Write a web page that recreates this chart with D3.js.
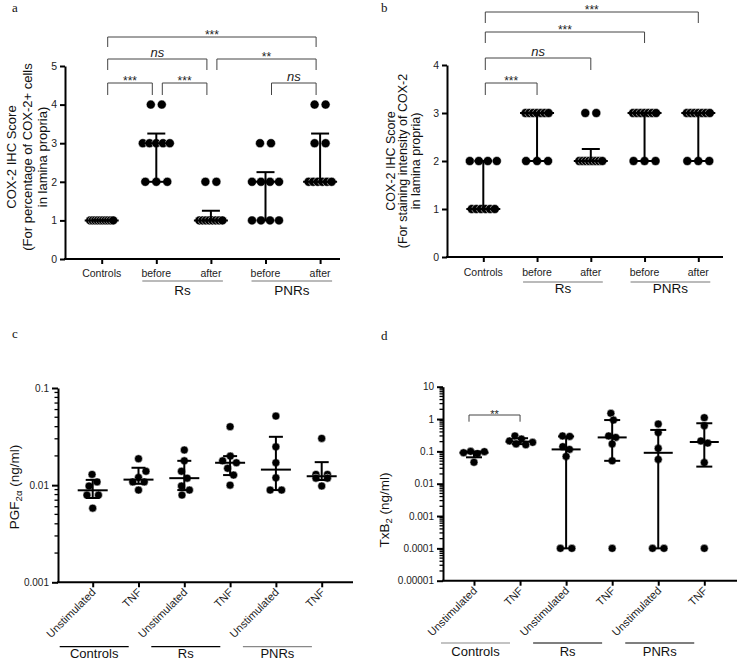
<!DOCTYPE html>
<html><head><meta charset="utf-8">
<script src="https://cdn.jsdelivr.net/npm/d3@7"></script>
<style>body{margin:0;background:#fff}svg{display:block;font-family:"Liberation Sans",Arial,sans-serif}</style>
</head><body><script>
// ---------------- DATA ----------------
const abCategories = ["Controls", "before", "after", "before", "after"];
const abGroupLabels = ["Rs", "PNRs"];
const abGroupSpans = [[1, 2], [3, 4]];

// panel a: COX-2 score (percentage of COX-2+ cells)
const aControls  = [1, 1, 1, 1, 1, 1, 1, 1, 1, 1];
const aRsBefore  = [4, 4, 3, 3, 3, 3, 3, 2, 2, 2];
const aRsAfter   = [2, 2, 1, 1, 1, 1, 1, 1, 1, 1];
const aPnrBefore = [3, 3, 2, 2, 2, 2, 1, 1, 1, 1];
const aPnrAfter  = [4, 4, 3, 3, 2, 2, 2, 2, 2, 2];
const aYTicks = [0, 1, 2, 3, 4, 5];
const aYTickLabels = ["0", "1", "2", "3", "4", "5"];
const aBrackets = [[0, 4, "***"], [0, 2, "ns"], [2, 4, "**"], [0, 1, "***"], [1, 2, "***"], [3, 4, "ns"]];
const aBracketLevel = [0, 1, 1, 2, 2, 2];
const aYLabel = ["COX-2 IHC Score", "(For percentage of COX-2+ cells", "in lamina propria)"];

// panel b: COX-2 score (staining intensity)
const bControls  = [2, 2, 2, 2, 1, 1, 1, 1, 1, 1];
const bRsBefore  = [3, 3, 3, 3, 3, 3, 3, 2, 2, 2];
const bRsAfter   = [3, 3, 2, 2, 2, 2, 2, 2, 2, 2];
const bPnrBefore = [3, 3, 3, 3, 3, 3, 3, 2, 2, 2];
const bPnrAfter  = [3, 3, 3, 3, 3, 3, 3, 2, 2, 2];
const bYTicks = [0, 1, 2, 3, 4];
const bYTickLabels = ["0", "1", "2", "3", "4"];
const bBrackets = [[0, 4, "***"], [0, 3, "***"], [0, 2, "ns"], [0, 1, "***"]];
const bBracketLevel = [0, 1, 2, 3];
const bYLabel = ["COX-2 IHC Score", "(For staining intensity of COX-2", "in lamina propria)"];

const cdCategories = ["Unstimulated", "TNF", "Unstimulated", "TNF", "Unstimulated", "TNF"];
const cdGroupLabels = ["Controls", "Rs", "PNRs"];
const cdGroupSpans = [[0, 1], [2, 3], [4, 5]];

// panel c: PGF2α (ng/ml)
const cCtrlUnstim = [0.0129, 0.0108, 0.0098, 0.0079, 0.0079, 0.0058];
const cCtrlTnf    = [0.0187, 0.0139, 0.0120, 0.0108, 0.0108, 0.0089];
const cRsUnstim   = [0.0230, 0.0178, 0.0139, 0.0118, 0.0098, 0.0089, 0.0079];
const cRsTnf      = [0.0400, 0.0199, 0.0178, 0.0170, 0.0149, 0.0127, 0.0100];
const cPnrUnstim  = [0.0514, 0.0248, 0.0170, 0.0119, 0.0089, 0.0089];
const cPnrTnf     = [0.0303, 0.0129, 0.0129, 0.0118, 0.0118, 0.0098];
const cYTicks = [0.001, 0.01, 0.1];
const cYTickLabels = ["0.001", "0.01", "0.1"];

// panel d: TxB2 (ng/ml)
const dCtrlUnstim = [0.100, 0.098, 0.091, 0.085, 0.046];
const dCtrlTnf    = [0.30, 0.24, 0.21, 0.19, 0.17, 0.16];
const dRsUnstim   = [0.30, 0.29, 0.14, 0.115, 0.07, 0.0001, 0.0001];
const dRsTnf      = [1.5, 0.93, 0.30, 0.27, 0.17, 0.051, 0.0001];
const dPnrUnstim  = [0.70, 0.38, 0.124, 0.0565, 0.0001, 0.0001];
const dPnrTnf     = [1.1, 0.62, 0.21, 0.18, 0.045, 0.0001];
const dYTicks = [0.00001, 0.0001, 0.001, 0.01, 0.1, 1, 10];
const dYTickLabels = ["0.00001", "0.0001", "0.001", "0.01", "0.1", "1", "10"];
const dBrackets = [[0, 1, "**"]];
const dBracketLevel = [0];

// ---------------- HELPERS ----------------
const svg = d3.select("body").append("svg").attr("width", 740).attr("height", 661);

function pct(sorted, p) {
  const n = sorted.length, h = (n + 1) * p;
  if (h <= 1) return sorted[0];
  if (h >= n) return sorted[n - 1];
  const l = Math.floor(h);
  return sorted[l - 1] + (h - l) * (sorted[l] - sorted[l - 1]);
}
function layoutTies(vals, sp, spanSmall, spanBig) {
  const dx = new Array(vals.length).fill(0);
  const groups = d3.group(vals.map((v, i) => [v, i]), d => d[0]);
  for (const [, arr] of groups) {
    const n = arr.length;
    const s = n > 1 ? Math.min(sp, (n <= 5 ? spanSmall : spanBig) / (n - 1)) : 0;
    arr.forEach((d, k) => { dx[d[1]] = (k - (n - 1) / 2) * s; });
  }
  return dx;
}
function layoutPoints(vals, y, o) {
  const tieDx = layoutTies(vals, o.tieSp, 27, 23);
  const counts = d3.rollup(vals, v => v.length, d => d);
  const nodes = vals.map((v, i) => {
    const tie = counts.get(v) > 1;
    return { x: tie ? tieDx[i] : (i % 2 ? 1 : -1) * (0.2 + i * 0.15), y: y(v), fy: y(v), fx: tie ? tieDx[i] : null };
  });
  if (nodes.some(n => n.fx == null) && o.collide) {
    const sim = d3.forceSimulation(nodes)
      .force("x", d3.forceX(0).strength(0.06))
      .force("col", d3.forceCollide(o.collide).iterations(3)).stop();
    for (let k = 0; k < 400; k++) sim.tick();
  }
  return nodes.map(n => n.x);
}

function drawPanel(o) {
  const g = svg.append("g");
  const n = o.cats.length;
  const x = d3.scaleLinear().domain([0, n - 1]).range([o.x0, o.x1]);
  const y = (o.log ? d3.scaleLog() : d3.scaleLinear()).domain(o.yDomain).range([o.yBottom, o.yTop]);

  // y axis
  const ya = g.append("g").attr("transform", `translate(${o.axisX},0)`)
    .call(d3.axisLeft(y).tickValues(o.yTicks).tickFormat((d, i) => o.yTickLabels[i])
      .tickSize(o.log ? 6 : 5).tickSizeOuter(0).tickPadding(3));
  ya.select(".domain").attr("stroke", "#000").attr("stroke-width", 2);
  ya.selectAll(".tick line").attr("stroke", "#000").attr("stroke-width", 2);
  ya.selectAll(".tick text").attr("font-size", o.tickFont).attr("fill", "#222")
    .attr("font-family", '"Liberation Sans",Arial,sans-serif');
  if (o.log) {
    const minors = [];
    for (let k = 0; k < o.yTicks.length - 1; k++)
      for (let m = 2; m <= 9; m++) minors.push(o.yTicks[k] * m);
    g.append("g").selectAll("line").data(minors).join("line")
      .attr("x1", o.axisX - 3.5).attr("x2", o.axisX)
      .attr("y1", d => y(d)).attr("y2", d => y(d))
      .attr("stroke", "#000").attr("stroke-width", 1.3);
  }
  // x axis
  g.append("line").attr("x1", o.axisX - 1).attr("x2", o.xEnd)
    .attr("y1", o.yBottom).attr("y2", o.yBottom).attr("stroke", "#000").attr("stroke-width", 2);
  const xa = g.append("g").attr("transform", `translate(0,${o.yBottom})`)
    .call(d3.axisBottom(x).tickValues(d3.range(n)).tickSize(5).tickFormat(""));
  xa.select(".domain").remove();
  xa.selectAll(".tick line").attr("stroke", "#000").attr("stroke-width", 2);

  // category labels
  if (o.rotate) {
    g.append("g").selectAll("text").data(o.cats).join("text")
      .attr("transform", (d, i) => `translate(${x(i) + 1},${o.yBottom + 8}) rotate(-45)`)
      .attr("text-anchor", "end").attr("dy", "0.35em")
      .attr("font-size", 11).attr("fill", "#222").text(d => d);
  } else {
    g.append("g").selectAll("text").data(o.cats).join("text")
      .attr("x", (d, i) => x(i)).attr("y", o.catLabelY).attr("dy", "0.35em")
      .attr("text-anchor", "middle").attr("font-size", 10.5).attr("fill", "#222").text(d => d);
  }
  // group underlines + labels
  o.groupSpans.forEach((s, k) => {
    const xa0 = o.rotate ? x(s[0]) - 33 : x(s[0]) - 14;
    const xa1 = o.rotate ? x(s[0]) + 36 : x(s[1]) + 12;
    g.append("line").attr("x1", xa0).attr("x2", xa1).attr("y1", o.underY).attr("y2", o.underY)
      .attr("stroke", o.underColors[k]).attr("stroke-width", 1.2);
    g.append("text").attr("x", (xa0 + xa1) / 2).attr("y", o.groupLabelY).attr("dy", "0.35em")
      .attr("text-anchor", "middle").attr("font-size", o.groupFont).attr("fill", "#111")
      .text(o.groupLabels[k]);
  });

  // data columns
  o.series.forEach((vals, i) => {
    const dx = layoutPoints(vals, y, o);
    const cg = g.append("g");
    cg.selectAll("circle").data(vals).join("circle")
      .attr("cx", (d, k) => x(i) + dx[k]).attr("cy", d => y(d)).attr("r", o.r)
      .attr("fill", "#000").attr("stroke", "#fff").attr("stroke-width", 0.5);
    const s = vals.slice().sort((a, b) => a - b);
    const q1 = pct(s, 0.25), med = pct(s, 0.5), q3 = pct(s, 0.75);
    const lines = [
      [x(i), y(q1), x(i), y(q3)],
      [x(i) - o.capHW, y(q1), x(i) + o.capHW, y(q1)],
      [x(i) - o.capHW, y(q3), x(i) + o.capHW, y(q3)],
      [x(i) - o.medHW, y(med), x(i) + o.medHW, y(med)]
    ];
    cg.selectAll("line").data(lines).join("line")
      .attr("x1", d => d[0]).attr("y1", d => d[1]).attr("x2", d => d[2]).attr("y2", d => d[3])
      .attr("stroke", "#000").attr("stroke-width", 2);
  });

  // significance brackets
  (o.brackets || []).forEach((b, k) => {
    const L = o.bracketLevels[k];
    const top = o.bracketTops[L], bot = o.bracketBots[L];
    const x1 = x(b[0]) + o.legOffL, x2 = x(b[1]) + o.legOffR;
    g.append("path").attr("d", `M${x1},${bot}V${top}H${x2}V${bot}`)
      .attr("fill", "none").attr("stroke", "#444").attr("stroke-width", 1);
    const t = g.append("text").attr("x", (x1 + x2) / 2).attr("text-anchor", "middle").attr("fill", "#222").text(b[2]);
    if (b[2] === "ns") t.attr("y", top - 1.6).attr("font-size", 13).attr("font-style", "italic");
    else t.attr("y", top + o.starDy).attr("font-size", o.starFont);
  });

  // y label
  const yl = g.append("text").attr("transform", `translate(${o.yLabelX},${o.yLabelY}) rotate(-90)`)
    .attr("text-anchor", "middle").attr("font-size", o.yLabelFont).attr("fill", "#111");
  if (o.yLabelLines) {
    o.yLabelLines.forEach((t, k) => {
      yl.append("tspan").attr("x", 0).attr("y", k * o.yLabelGap).text(t);
    });
  } else {
    yl.append("tspan").text(o.yLabelMain);
    yl.append("tspan").attr("dy", 3).attr("font-size", 9.5).text(o.yLabelSub);
    yl.append("tspan").attr("dy", -3).text(o.yLabelRest);
  }
  // panel letter
  svg.append("text").attr("x", o.letterX).attr("y", o.letterY).attr("font-size", 13)
    .attr("font-family", '"Liberation Serif","Times New Roman",serif').attr("fill", "#111").text(o.letter);
}

// ---------------- PANELS ----------------
drawPanel({
  letter: "a", letterX: 12, letterY: 12,
  cats: abCategories, groupLabels: abGroupLabels, groupSpans: abGroupSpans, underColors: ["#777", "#777"],
  series: [aControls, aRsBefore, aRsAfter, aPnrBefore, aPnrAfter],
  yDomain: [0, 5], yTicks: aYTicks, yTickLabels: aYTickLabels,
  axisX: 65, x0: 101.7, x1: 320.1, xEnd: 340, yTop: 66, yBottom: 259,
  tickFont: 10.5, catLabelY: 273, underY: 281, groupLabelY: 290, groupFont: 13.5,
  r: 4.5, medHW: 17, capHW: 9, tieSp: 11,
  brackets: aBrackets, bracketLevels: aBracketLevel, bracketTops: [37, 59, 83], bracketBots: [47, 70, 95],
  legOffL: 6, legOffR: -4, starFont: 12, starDy: 2.2,
  yLabelLines: aYLabel, yLabelX: 16, yLabelY: 157, yLabelGap: 15.5, yLabelFont: 13
});
drawPanel({
  letter: "b", letterX: 381, letterY: 12,
  cats: abCategories, groupLabels: abGroupLabels, groupSpans: abGroupSpans, underColors: ["#777", "#777"],
  series: [bControls, bRsBefore, bRsAfter, bPnrBefore, bPnrAfter],
  yDomain: [0, 4], yTicks: bYTicks, yTickLabels: bYTickLabels,
  axisX: 447, x0: 483.3, x1: 698.3, xEnd: 723, yTop: 65, yBottom: 257,
  tickFont: 10.5, catLabelY: 272.7, underY: 282, groupLabelY: 288.5, groupFont: 13.5,
  r: 4.5, medHW: 17, capHW: 9, tieSp: 11,
  brackets: bBrackets, bracketLevels: bBracketLevel, bracketTops: [12, 32, 58, 83], bracketBots: [23, 43, 70, 95],
  legOffL: 2, legOffR: 0, starFont: 12, starDy: 2,
  yLabelLines: bYLabel, yLabelX: 394.5, yLabelY: 161, yLabelGap: 12.8, yLabelFont: 12.5
});
drawPanel({
  letter: "c", letterX: 12, letterY: 338, log: true, rotate: true, collide: 4.5, tieSp: 11.5,
  cats: cdCategories, groupLabels: cdGroupLabels, groupSpans: cdGroupSpans, underColors: ["#000", "#000", "#888"],
  series: [cCtrlUnstim, cCtrlTnf, cRsUnstim, cRsTnf, cPnrUnstim, cPnrTnf],
  yDomain: [0.001, 0.1], yTicks: cYTicks, yTickLabels: cYTickLabels,
  axisX: 58, x0: 92.7, x1: 321.7, xEnd: 353, yTop: 388, yBottom: 582.3,
  tickFont: 10, underY: 646.7, groupLabelY: 653, groupFont: 13,
  r: 4, medHW: 15, capHW: 7,
  yLabelMain: "PGF", yLabelSub: "2α", yLabelRest: " (ng/ml)", yLabelX: 18.5, yLabelY: 487, yLabelFont: 13.5
});
drawPanel({
  letter: "d", letterX: 381, letterY: 340, log: true, rotate: true, collide: 3.6, tieSp: 11.5,
  cats: cdCategories, groupLabels: cdGroupLabels, groupSpans: cdGroupSpans, underColors: ["#888", "#000", "#000"],
  series: [dCtrlUnstim, dCtrlTnf, dRsUnstim, dRsTnf, dPnrUnstim, dPnrTnf],
  yDomain: [0.00001, 10], yTicks: dYTicks, yTickLabels: dYTickLabels,
  axisX: 443, x0: 474, x1: 704.3, xEnd: 737, yTop: 386.7, yBottom: 580.7,
  tickFont: 10, underY: 643, groupLabelY: 651, groupFont: 13,
  r: 4, medHW: 14.5, capHW: 8,
  brackets: dBrackets, bracketLevels: dBracketLevel, bracketTops: [415], bracketBots: [421.7],
  legOffL: -5, legOffR: 0, starFont: 11, starDy: 3,
  yLabelMain: "TxB", yLabelSub: "2", yLabelRest: " (ng/ml)", yLabelX: 388.5, yLabelY: 510, yLabelFont: 13.5
});
</script></body></html>
